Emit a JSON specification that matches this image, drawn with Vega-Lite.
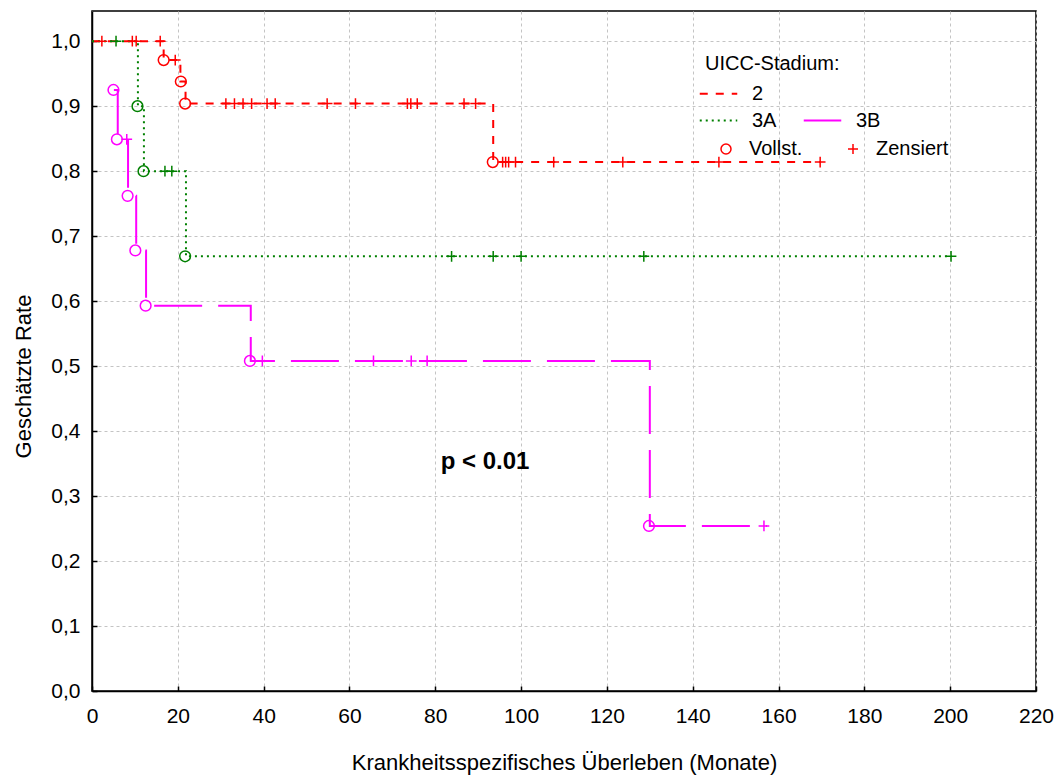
{
  "$schema": "https://vega.github.io/schema/vega-lite/v6.json",
  "width": 944,
  "height": 680,
  "autosize": {"type": "none"},
  "padding": {"left": 92, "top": 11, "right": 21, "bottom": 85},
  "background": "white",
  "config": {
    "font": "Liberation Sans",
    "view": {"stroke": "black", "strokeWidth": 1.5},
    "axis": {
      "domainColor": "black", "domainWidth": 1.5,
      "tickColor": "black", "tickWidth": 1.5, "tickSize": -5,
      "labelColor": "black", "labelFontSize": 21, "labelFont": "Liberation Sans",
      "titleColor": "black", "titleFontSize": 22, "titleFontWeight": "normal", "titleFont": "Liberation Sans",
      "grid": true, "gridColor": "#c4c4c4", "gridDash": [3, 3], "gridWidth": 1
    },
    "legend": {"labelFont": "Liberation Sans", "titleFont": "Liberation Sans", "labelColor": "black", "titleColor": "black"}
  },
  "datasets": {
    "steps": [
      {"group": "2", "t": 0, "s": 1},
      {"group": "2", "t": 16.7, "s": 0.971},
      {"group": "2", "t": 20.6, "s": 0.938},
      {"group": "2", "t": 21.8, "s": 0.904},
      {"group": "2", "t": 93.5, "s": 0.814},
      {"group": "2", "t": 169.8, "s": 0.814},
      {"group": "3A", "t": 0, "s": 1},
      {"group": "3A", "t": 10.7, "s": 0.9},
      {"group": "3A", "t": 12.1, "s": 0.8},
      {"group": "3A", "t": 21.9, "s": 0.669},
      {"group": "3A", "t": 200.3, "s": 0.669},
      {"group": "3B", "t": 5.1, "s": 0.925},
      {"group": "3B", "t": 6.0, "s": 0.849},
      {"group": "3B", "t": 8.4, "s": 0.762},
      {"group": "3B", "t": 10.3, "s": 0.678},
      {"group": "3B", "t": 12.6, "s": 0.593},
      {"group": "3B", "t": 37.0, "s": 0.508},
      {"group": "3B", "t": 130.0, "s": 0.254},
      {"group": "3B", "t": 157.3, "s": 0.254}
    ],
    "marks": [
      {"group": "2", "type": "Zensiert", "t": 2.3, "s": 1},
      {"group": "2", "type": "Zensiert", "t": 9.4, "s": 1},
      {"group": "2", "type": "Zensiert", "t": 10.3, "s": 1},
      {"group": "2", "type": "Zensiert", "t": 15.9, "s": 1},
      {"group": "2", "type": "Zensiert", "t": 19.4, "s": 0.971},
      {"group": "2", "type": "Zensiert", "t": 31.2, "s": 0.904},
      {"group": "2", "type": "Zensiert", "t": 33.2, "s": 0.904},
      {"group": "2", "type": "Zensiert", "t": 35.2, "s": 0.904},
      {"group": "2", "type": "Zensiert", "t": 37.2, "s": 0.904},
      {"group": "2", "type": "Zensiert", "t": 40.8, "s": 0.904},
      {"group": "2", "type": "Zensiert", "t": 42.7, "s": 0.904},
      {"group": "2", "type": "Zensiert", "t": 54.8, "s": 0.904},
      {"group": "2", "type": "Zensiert", "t": 61.4, "s": 0.904},
      {"group": "2", "type": "Zensiert", "t": 73.5, "s": 0.904},
      {"group": "2", "type": "Zensiert", "t": 74.3, "s": 0.904},
      {"group": "2", "type": "Zensiert", "t": 75.8, "s": 0.904},
      {"group": "2", "type": "Zensiert", "t": 86.7, "s": 0.904},
      {"group": "2", "type": "Zensiert", "t": 89.4, "s": 0.904},
      {"group": "2", "type": "Zensiert", "t": 95.7, "s": 0.814},
      {"group": "2", "type": "Zensiert", "t": 96.4, "s": 0.814},
      {"group": "2", "type": "Zensiert", "t": 97.1, "s": 0.814},
      {"group": "2", "type": "Zensiert", "t": 98.7, "s": 0.814},
      {"group": "2", "type": "Zensiert", "t": 107.6, "s": 0.814},
      {"group": "2", "type": "Zensiert", "t": 123.7, "s": 0.814},
      {"group": "2", "type": "Zensiert", "t": 146.1, "s": 0.814},
      {"group": "2", "type": "Zensiert", "t": 169.7, "s": 0.814},
      {"group": "2", "type": "Vollst.", "t": 16.7, "s": 0.971},
      {"group": "2", "type": "Vollst.", "t": 20.7, "s": 0.938},
      {"group": "2", "type": "Vollst.", "t": 21.7, "s": 0.904},
      {"group": "2", "type": "Vollst.", "t": 93.4, "s": 0.814},
      {"group": "3A", "type": "Zensiert", "t": 5.6, "s": 1},
      {"group": "3A", "type": "Zensiert", "t": 17.0, "s": 0.8},
      {"group": "3A", "type": "Zensiert", "t": 18.6, "s": 0.8},
      {"group": "3A", "type": "Zensiert", "t": 83.8, "s": 0.669},
      {"group": "3A", "type": "Zensiert", "t": 93.5, "s": 0.669},
      {"group": "3A", "type": "Zensiert", "t": 100.0, "s": 0.669},
      {"group": "3A", "type": "Zensiert", "t": 128.6, "s": 0.669},
      {"group": "3A", "type": "Zensiert", "t": 200.2, "s": 0.669},
      {"group": "3A", "type": "Vollst.", "t": 10.6, "s": 0.9},
      {"group": "3A", "type": "Vollst.", "t": 12.0, "s": 0.8},
      {"group": "3A", "type": "Vollst.", "t": 21.7, "s": 0.669},
      {"group": "3B", "type": "Vollst.", "t": 5.0, "s": 0.925},
      {"group": "3B", "type": "Vollst.", "t": 5.8, "s": 0.849},
      {"group": "3B", "type": "Vollst.", "t": 8.3, "s": 0.762},
      {"group": "3B", "type": "Vollst.", "t": 10.1, "s": 0.678},
      {"group": "3B", "type": "Vollst.", "t": 12.5, "s": 0.593},
      {"group": "3B", "type": "Vollst.", "t": 36.8, "s": 0.508},
      {"group": "3B", "type": "Vollst.", "t": 129.8, "s": 0.254},
      {"group": "3B", "type": "Zensiert", "t": 8.1, "s": 0.849},
      {"group": "3B", "type": "Zensiert", "t": 39.7, "s": 0.508},
      {"group": "3B", "type": "Zensiert", "t": 65.6, "s": 0.508},
      {"group": "3B", "type": "Zensiert", "t": 74.4, "s": 0.508},
      {"group": "3B", "type": "Zensiert", "t": 78.1, "s": 0.508},
      {"group": "3B", "type": "Zensiert", "t": 156.6, "s": 0.254}
    ],
    "note": [
      {"label": "p < 0.01"}
    ]
  },
  "layer": [
    {
      "data": {"name": "steps"},
      "mark": {"type": "line", "interpolate": "step-after", "strokeWidth": 2},
      "encoding": {
        "x": {
          "field": "t", "type": "quantitative",
          "scale": {"domain": [0, 220], "nice": false, "zero": false},
          "axis": {
            "title": "Krankheitsspezifisches Überleben (Monate)",
            "values": [0, 20, 40, 60, 80, 100, 120, 140, 160, 180, 200, 220],
            "labelFlush": false, "labelOverlap": false, "labelPadding": 19,
            "titleY": 61, "titleBaseline": "top"
          }
        },
        "y": {
          "field": "s", "type": "quantitative",
          "scale": {"domain": [0, 1.0465], "nice": false},
          "axis": {
            "title": "Geschätzte Rate",
            "values": [0, 0.1, 0.2, 0.3, 0.4, 0.5, 0.6, 0.7, 0.8, 0.9, 1.0],
            "labelExpr": "replace(format(datum.value, '.1f'), '.', ',')",
            "labelFlush": false, "labelOverlap": false, "labelPadding": 17,
            "titleX": -57, "titleY": 365, "titleAngle": -90, "titleBaseline": "bottom", "titleAlign": "center"
          }
        },
        "color": {
          "field": "group", "type": "nominal",
          "scale": {"domain": ["2", "3A", "none", "3B"], "range": ["#FF0000", "#008000", "transparent", "#FF00FF"]},
          "legend": {
            "title": "UICC-Stadium:", "orient": "none", "legendX": 613, "legendY": 43, "columns": 2,
            "values": ["2", "3A", "none", "3B"],
            "symbolType": "M-1.5,0L1.5,0", "symbolSize": 625, "symbolStrokeWidth": 2,
            "labelExpr": "datum.value === 'none' ? '' : datum.label",
            "labelFontSize": 20, "titleFontSize": 20, "titleFontWeight": "normal",
            "labelOffset": 20, "columnPadding": 22, "rowPadding": 3, "titlePadding": 6
          }
        },
        "strokeDash": {
          "field": "group", "type": "nominal",
          "scale": {"domain": ["2", "3A", "none", "3B"], "range": [[8, 8], [2, 4], [1, 0], [48, 16]]},
          "legend": {
            "title": "UICC-Stadium:", "orient": "none", "legendX": 613, "legendY": 43, "columns": 2,
            "values": ["2", "3A", "none", "3B"],
            "symbolType": "M-1.5,0L1.5,0", "symbolSize": 625, "symbolStrokeWidth": 2,
            "labelExpr": "datum.value === 'none' ? '' : datum.label",
            "labelFontSize": 20, "titleFontSize": 20, "titleFontWeight": "normal",
            "labelOffset": 20, "columnPadding": 22, "rowPadding": 3, "titlePadding": 6
          }
        }
      }
    },
    {
      "data": {"name": "marks"},
      "mark": {"type": "point", "filled": false, "strokeWidth": 1.5, "opacity": 1, "size": 115},
      "encoding": {
        "x": {"field": "t", "type": "quantitative"},
        "y": {"field": "s", "type": "quantitative"},
        "stroke": {
          "field": "group", "type": "nominal",
          "scale": {"domain": ["2", "3A", "3B"], "range": ["#FF0000", "#008000", "#FF00FF"]},
          "legend": null
        },
        "shape": {
          "field": "type", "type": "nominal",
          "scale": {"domain": ["Vollst.", "Zensiert"], "range": ["circle", "M-1,0L1,0M0,-1L0,1"]},
          "legend": {
            "title": null, "orient": "none", "legendX": 624, "legendY": 128, "direction": "horizontal",
            "symbolSize": 100, "symbolStrokeColor": "#FF0000", "symbolFillColor": "transparent", "symbolStrokeWidth": 1.5,
            "labelFontSize": 20, "labelOffset": 13, "columnPadding": 40,
            "encode": {"symbols": {"update": {"stroke": {"value": "#FF0000"}, "fill": {"value": "transparent"}}}}
          }
        }
      }
    },
    {
      "data": {"name": "note"},
      "mark": {"type": "text", "fontWeight": "bold", "fontSize": 24, "align": "center", "baseline": "middle", "font": "Liberation Sans", "fill": "black"},
      "encoding": {
        "x": {"datum": 91.6, "type": "quantitative"},
        "y": {"datum": 0.352, "type": "quantitative"},
        "text": {"field": "label", "type": "nominal"}
      }
    }
  ]
}
